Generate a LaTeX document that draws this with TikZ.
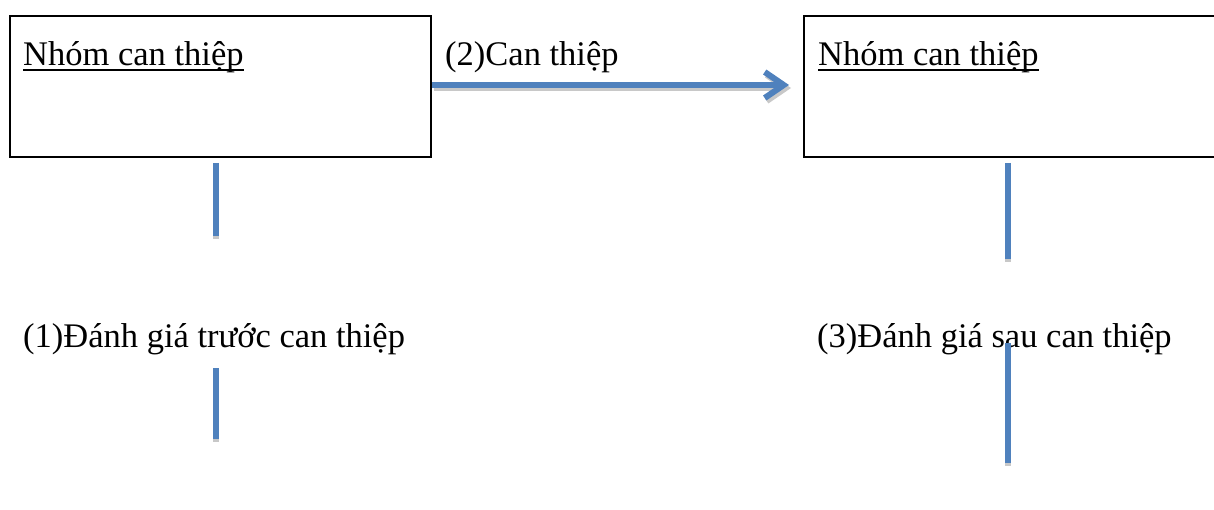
\documentclass[tikz,border=0pt]{standalone}
\usepackage{fontspec}
\setmainfont{Liberation Serif}
\usetikzlibrary{arrows.meta}
\definecolor{lineblue}{HTML}{4F81BD}
\definecolor{shade}{HTML}{C8C8C8}
\begin{document}
\begin{tikzpicture}[x=1pt,y=-1pt,
  txt/.style={font=\fontsize{34.5}{40}\selectfont, inner sep=0pt, anchor=base west},
  groupbox/.style={draw=black, line width=2pt},
  uline/.style={draw=black, line width=2pt},
  conn/.style={draw=lineblue, line width=5.5pt},
  connshadow/.style={draw=shade, line width=5.5pt},
  headtip/.style={-{Straight Barb[length=19pt,width=26pt,line width=6pt]}}]
\useasboundingbox (0,0) rectangle (1214,510);
% boxes
\node[groupbox, minimum width=421pt, minimum height=141pt, anchor=north west, inner sep=0pt] (boxA) at (9,15) {};
\node[groupbox, minimum width=440pt, minimum height=141pt, anchor=north west, inner sep=0pt] (boxB) at (803,15) {};
% texts
\node[txt] (tA) at (23,66) {Nhóm can thiệp};
\node[txt] (tB) at (818,66) {Nhóm can thiệp};
\node[txt] (t2) at (445,66) {(2)Can thiệp};
\node[txt] (t1) at (23,347) {(1)Đánh giá trước can thiệp};
\node[txt] (t3) at (817,347) {(3)Đánh giá sau can thiệp};
\draw[uline] ([yshift=-4pt]tA.base west) -- ([yshift=-4pt]tA.base east);
\draw[uline] ([yshift=-4pt]tB.base west) -- ([yshift=-4pt]tB.base east);
% coordinates
\coordinate (a1) at (432,85);
\coordinate (a2) at (789,85);
\coordinate (l1s) at (216,163); \coordinate (l1e) at (216,236);
\coordinate (l2s) at (216,368); \coordinate (l2e) at (216,439);
\coordinate (r1s) at (1008,163); \coordinate (r1e) at (1008,259);
\coordinate (r2s) at (1008,343); \coordinate (r2e) at (1008,463);
% shadows
\draw[connshadow, headtip] ([shift={(2,3)}]a1) -- ([shift={(2,3)}]a2);
\foreach \s/\e in {l1s/l1e, l2s/l2e, r1s/r1e, r2s/r2e}
  \draw[connshadow] ([shift={(0,3)}]\s) -- ([shift={(0,3)}]\e);
% connectors
\draw[conn, headtip] (a1) -- (a2);
\draw[conn] (l1s) -- (l1e);
\draw[conn] (l2s) -- (l2e);
\draw[conn] (r1s) -- (r1e);
\draw[conn] (r2s) -- (r2e);
\end{tikzpicture}
\end{document}
